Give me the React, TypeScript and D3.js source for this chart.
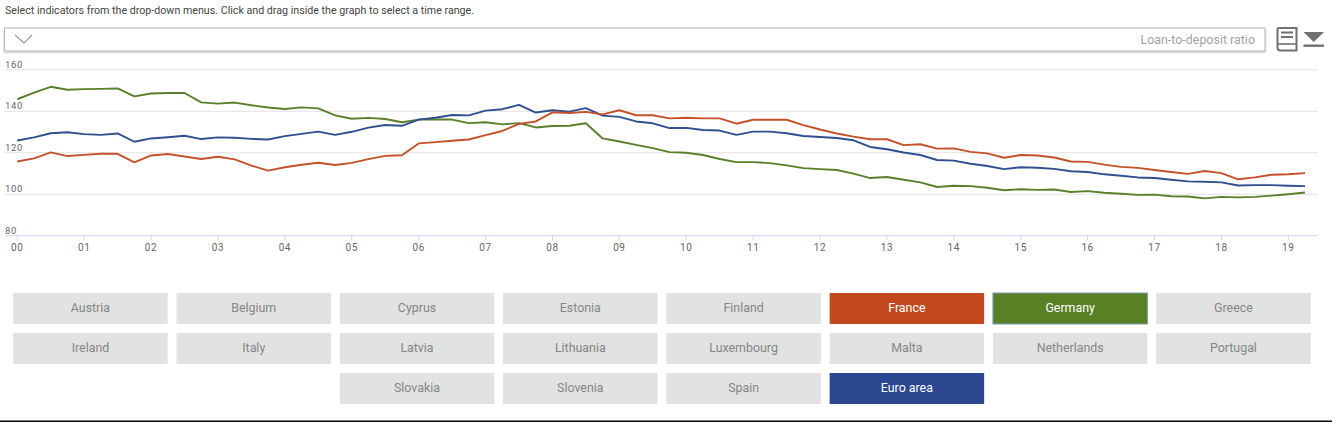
import React from "react";
import * as d3 from "d3";

const yearLabels = ["00","01","02","03","04","05","06","07","08","09","10","11","12","13","14","15","16","17","18","19"];
const yTicks = [160, 140, 120, 100, 80];

const germany = [145.8,149,151.8,150.4,150.7,150.8,151,147.2,148.6,148.8,148.8,144.3,143.7,144.2,142.9,141.8,141.1,141.9,141.4,138,
136.4,136.8,136.3,134.7,136,136.1,136,134.3,134.7,133.7,134.3,132.2,132.9,133,134.2,126.9,125.4,123.8,122.2,120.3,
120,118.9,117,115.5,115.5,115,113.9,112.6,112.1,111.7,109.9,107.8,108.3,107,105.7,103.5,104.1,103.9,103.1,101.9,
102.4,102.1,102.3,101.1,101.5,100.7,100.2,99.7,99.8,99,98.9,98,98.7,98.5,98.7,99.3,100,100.8];
const euroArea = [125.9,127.4,129.4,129.9,129,128.6,129.3,125.3,126.9,127.5,128.2,126.6,127.4,127.2,126.7,126.4,128,129.1,130.2,128.6,
130.1,132.1,133.4,133,136,136.9,138.2,138,140.3,141,143.1,139.4,140.5,139.8,141.5,137.9,137.3,135.1,134.2,131.9,
132,131,130.7,128.6,130.2,130.2,129.4,128.1,127.6,127.1,126,122.8,121.7,120.1,118.9,116.5,116.2,114.7,113.6,112.1,
113,112.8,112.2,111.1,110.7,109.6,108.9,108.1,107.8,107,106.2,106,105.7,104.2,104.4,104.4,104.1,103.9];
const france = [115.8,117.3,120.2,118.4,119,119.5,119.5,115.4,118.7,119.4,118.2,117,118.1,116.8,113.8,111.4,113,114.2,115.2,114.1,
115.1,116.9,118.5,118.8,124.5,125.1,125.8,126.4,128.5,130.5,133.9,135.1,139.5,139.2,139.7,138.5,140.5,138.1,138.1,136.6,
136.9,136.6,136.6,134,135.9,135.9,135.9,133.3,131.2,129.3,127.8,126.5,126.5,123.7,124.1,122,122.1,120.4,119.7,117.6,
118.9,118.7,117.7,115.8,115.6,114.3,113.2,112.7,111.7,110.7,109.8,111.2,110.2,107.2,108.1,109.4,109.6,110.2];

const seriesList = [
  { name: "Germany", values: germany, color: "#5a7f2b" },
  { name: "Euro area", values: euroArea, color: "#2f4f8f" },
  { name: "France", values: france, color: "#c4512a" },
];

const buttonRows: (string | null)[][] = [
  ["Austria","Belgium","Cyprus","Estonia","Finland","France","Germany","Greece"],
  ["Ireland","Italy","Latvia","Lithuania","Luxembourg","Malta","Netherlands","Portugal"],
  [null,null,"Slovakia","Slovenia","Spain","Euro area",null,null],
];
const activeColors: Record<string, string> = { France: "#c2491d", Germany: "#588025", "Euro area": "#2a4790" };

const font = "Roboto, sans-serif";

export default function App() {
  const x = d3.scaleLinear().domain([0, 19]).range([17.3, 1288.3]);
  const y = d3.scaleLinear().domain([80, 160]).range([235.7, 69.8]);
  const line = d3.line<number>().x((_, i) => x(i / 4)).y(d => y(d));
  const colX = d3.scaleLinear().domain([0, 7]).range([13.2, 1156.2]);
  const rowY = d3.scaleLinear().domain([0, 2]).range([293, 373]);

  return (
    <svg width={1332} height={422} style={{ position: "absolute", left: 0, top: 0, display: "block" }} fontFamily={font}>
      <defs>
        <filter id="boxShadow" x="-1%" y="-20%" width="102%" height="150%">
          <feDropShadow dx="0" dy="1" stdDeviation="1" floodColor="#000" floodOpacity="0.25" />
        </filter>
      </defs>
      <rect width={1332} height={422} fill="#fff" />
      <text x={5} y={14} fontSize={10.68} fill="#444">Select indicators from the drop-down menus. Click and drag inside the graph to select a time range.</text>

      <rect x={4.5} y={28} width={1260.5} height={23} fill="#fff" stroke="#b5b5b5" strokeWidth={1} filter="url(#boxShadow)" />
      <path d="M15,35 L24,43 L32,35" fill="none" stroke="#999" strokeWidth={1.1} />
      <text x={1255} y={44} fontSize={12.45} fill="#a3a3a3" textAnchor="end">Loan-to-deposit ratio</text>

      {/* book icon */}
      <g fill="none" stroke="#707070">
        <path d="M1279,28 H1296.5 V50.5 H1280.5 Q1277.5,50.5 1277.5,47 V29.5 Q1277.5,28 1279,28 Z" strokeWidth={2} />
        <path d="M1278,44 H1296" strokeWidth={1.6} />
        <path d="M1281,32.5 H1293 M1281,37 H1293" strokeWidth={2} />
      </g>
      {/* download icon */}
      <path d="M1303.5,32 H1324 L1313.7,42 Z" fill="#707070" />
      <rect x={1303.5} y={44.5} width={20.5} height={2.4} fill="#707070" />

      {yTicks.map(t => (
        <g key={t}>
          <line x1={5} x2={1318} y1={y(t)} y2={y(t)} stroke={t === 80 ? "#ccd6eb" : "#e2e2e2"} strokeWidth={1} />
          <text x={5} y={y(t) - 2} fontSize={9.5} fill="#666" letterSpacing={0.6}>{t}</text>
        </g>
      ))}
      {yearLabels.map((l, i) => (
        <g key={l}>
          <line x1={x(i)} x2={x(i)} y1={235.7} y2={240} stroke="#ccd6eb" />
          <text x={x(i)} y={251} fontSize={10} fill="#666" textAnchor="middle" letterSpacing={0.6}>{l}</text>
        </g>
      ))}

      {seriesList.map(s => (
        <path key={s.name} d={line(s.values) ?? ""} fill="none" stroke={s.color} strokeWidth={1.9} strokeLinejoin="round" />
      ))}

      {buttonRows.map((row, r) =>
        row.map((name, c) => {
          if (!name) return null;
          const color = activeColors[name];
          return (
            <g key={name}>
              <rect x={colX(c)} y={rowY(r)} width={154.5} height={31} fill={color ?? "#e1e3e2"}
                stroke={name === "Germany" ? "#7b9db5" : "none"} strokeWidth={name === "Germany" ? 1 : 0} />
              <text x={colX(c) + 77.25} y={rowY(r) + 19} fontSize={12.4} textAnchor="middle" fill={color ? "#fff" : "#858585"}>{name}</text>
            </g>
          );
        })
      )}

      <rect x={0} y={420.5} width={1332} height={1.5} fill="#000" />
    </svg>
  );
}
